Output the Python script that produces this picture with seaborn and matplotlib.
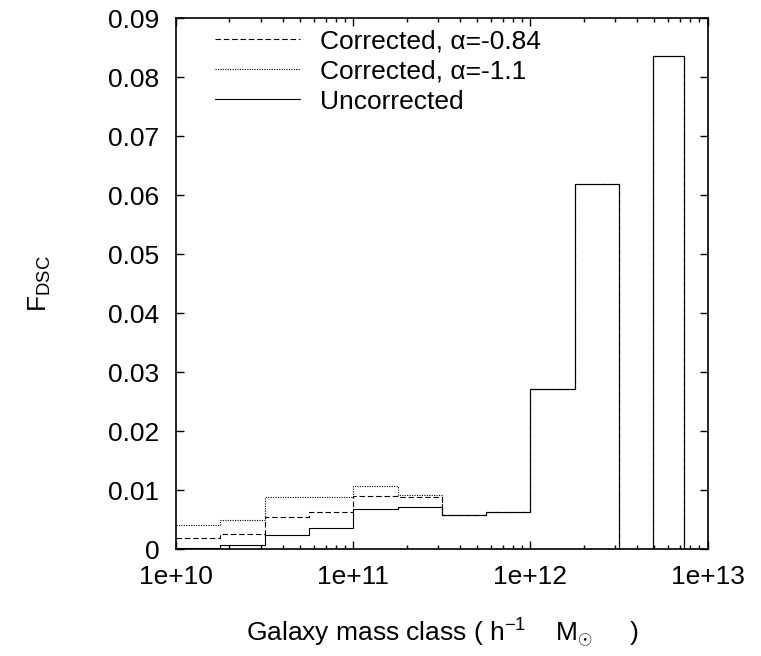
import numpy as np
import pandas as pd
import matplotlib
matplotlib.use("Agg")
import matplotlib.pyplot as plt
from matplotlib.ticker import LogLocator, FixedLocator, NullFormatter
import seaborn as sns

# Bin edges of the galaxy mass classes (h^-1 Msun)
mass_edges = [1.0e10, 1.78e10, 3.16e10, 5.62e10, 1.0e11, 1.78e11, 3.16e11,
              5.62e11, 1.0e12, 1.78e12, 3.16e12, 4.9e12, 7.4e12, 1.0e13]

# Fraction of DSC per mass class (one value per bin)
f_uncorrected = [0.0003, 0.0007, 0.0024, 0.0037, 0.0068, 0.0071, 0.0059,
                 0.0063, 0.0272, 0.0620, 0.0, 0.0836, 0.0]
f_corr_084 = [0.0019, 0.0026, 0.0055, 0.0063, 0.0090, 0.0089, 0.0059,
              0.0063, 0.0272, 0.0620, 0.0, 0.0836, 0.0]
f_corr_110 = [0.0041, 0.0049, 0.0088, 0.0089, 0.0108, 0.0092, 0.0059,
              0.0063, 0.0272, 0.0620, 0.0, 0.0836, 0.0]

series_labels = ["Corrected, α=-0.84", "Corrected, α=-1.1", "Uncorrected"]

x_ticks = [1e10, 1e11, 1e12, 1e13]
x_tick_labels = ["1e+10", "1e+11", "1e+12", "1e+13"]
y_ticks = [0.0, 0.01, 0.02, 0.03, 0.04, 0.05, 0.06, 0.07, 0.08, 0.09]
y_tick_labels = ["0", "0.01", "0.02", "0.03", "0.04", "0.05", "0.06",
                 "0.07", "0.08", "0.09"]

sns.set_theme(style="ticks")
plt.rcParams["font.family"] = ["Liberation Sans", "DejaVu Sans"]
plt.rcParams["mathtext.fontset"] = "custom"
plt.rcParams["mathtext.rm"] = "Liberation Sans"
plt.rcParams["mathtext.it"] = "Liberation Sans:italic"
plt.rcParams["mathtext.sf"] = "Liberation Sans"
plt.rcParams["mathtext.fallback"] = "cm"
for key in ["text.color", "axes.labelcolor", "xtick.color", "ytick.color",
            "axes.edgecolor"]:
    plt.rcParams[key] = "black"

FS = 19

fig = plt.figure(figsize=(7.61, 6.56), dpi=100)
ax = fig.add_axes([0.2313, 0.1626, 0.6984, 0.8092])

def step_frame(values):
    # repeat the last bin value at the final edge so steps-post closes the bin
    return pd.DataFrame({"mass": mass_edges, "f": list(values) + [values[-1]]})

styles = [
    (f_uncorrected, "-", series_labels[2]),
    (f_corr_084, (0, (5, 2.5)), series_labels[0]),
    (f_corr_110, (0, (1, 1.2)), series_labels[1]),
]
handles = {}
for vals, ls, lab in styles:
    d = step_frame(vals)
    sns.lineplot(data=d, x="mass", y="f", ax=ax, drawstyle="steps-post",
                 color="black", linewidth=0.8, linestyle=ls, label=lab,
                 sort=True, estimator=None, legend=False)
    handles[lab] = ax.lines[-1]

ax.set_xscale("log")
ax.set_xlim(1e10, 1e13)
ax.set_ylim(0, 0.09)

ax.xaxis.set_major_locator(FixedLocator(x_ticks))
ax.set_xticklabels(x_tick_labels)
ax.xaxis.set_minor_locator(LogLocator(base=10, subs=np.arange(2, 10)))
ax.xaxis.set_minor_formatter(NullFormatter())
ax.set_yticks(y_ticks)
ax.set_yticklabels(y_tick_labels)

ax.tick_params(which="both", direction="in", top=True, right=True,
               colors="black", labelcolor="black", labelsize=FS)
ax.tick_params(which="major", length=5.8, width=1.0)
ax.tick_params(which="minor", length=3.0, width=1.0)
ax.tick_params(axis="x", which="major", pad=11)
ax.tick_params(axis="y", which="major", pad=12)
for s in ax.spines.values():
    s.set_visible(True)
    s.set_linewidth(1.2)
    s.set_color("black")

ax.set_xlabel(r"Galaxy mass class ( h$^{-1}$    M$_{\odot}$     )",
              fontsize=FS, labelpad=20, color="black")
ax.set_ylabel(r"F$_{\mathrm{DSC}}$", fontsize=FS, labelpad=40, color="black")

leg = ax.legend([handles[l] for l in series_labels], series_labels,
                loc="upper left", bbox_to_anchor=(0.054, 1.0), frameon=False,
                fontsize=FS, handlelength=3.2, handletextpad=0.76,
                labelspacing=0.24, borderaxespad=0.0, labelcolor="black")

fig.savefig("out.png", dpi=100)
